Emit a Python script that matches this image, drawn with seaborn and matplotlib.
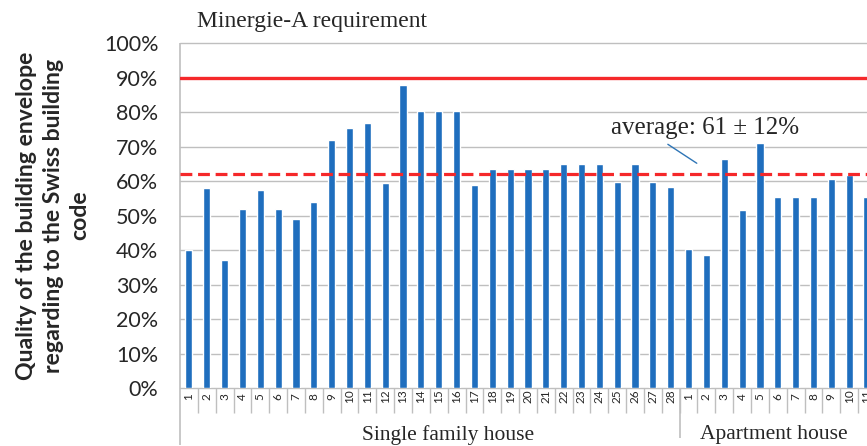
# Quality of the building envelope vs. Swiss building code
# Bar chart with Minergie-A requirement and average line
import pandas as pd
import matplotlib.pyplot as plt
import seaborn as sns

# Values (percent)
single_family = [40, 58, 37, 52, 57.5, 52, 49, 54, 72, 75.5, 77, 59.5, 88, 80.5,
                 80.5, 80.5, 59, 63.5, 63.5, 63.5, 63.5, 65, 65, 65, 59.7, 65, 59.7, 58.3]
apartment = [40.2, 38.5, 66.3, 51.7, 71.2, 55.5, 55.5, 55.5, 60.5, 61.7, 55.3]
requirement = 90
average = 62
groups = ["Single family house", "Apartment house"]

labels = [str(i + 1) for i in range(len(single_family))] + \
         [str(i + 1) for i in range(len(apartment))]
data = pd.DataFrame({
    "id": ["S%d" % (i + 1) for i in range(len(single_family))] +
          ["A%d" % (i + 1) for i in range(len(apartment))],
    "value": single_family + apartment,
})

sns.set_style("white")
plt.rcParams['font.family'] = ['Lato', 'DejaVu Sans']

fig = plt.figure(figsize=(8.67, 4.46), dpi=100)
ax = fig.add_axes([180 / 867, 58 / 446, 1 - 180 / 867, 344.7 / 446])

blue = "#1F6EBE"
red = "#F5282A"
grey = "#BFBFBF"

sns.barplot(data=data, x="id", y="value", color=blue, saturation=1,
            width=0.4, ax=ax, zorder=3)

# gridlines and frame
for v in range(0, 101, 10):
    ax.axhline(v, color=grey, lw=1, zorder=1, clip_on=False)
for s in ax.spines.values():
    s.set_visible(False)

ax.set_ylim(0, 100)
ax.set_xlim(-0.5, 37.96)
ax.set_yticks(range(0, 101, 10))
ax.set_yticklabels(["%d%%" % v for v in range(0, 101, 10)], fontsize=15.5,
                   color="#262626")
ax.tick_params(axis="y", length=0, pad=15.5)

ax.set_xticks(range(len(labels)))
ax.set_xticklabels(labels, rotation=90, fontsize=8.5, color="#262626",
                   va="center")
ax.tick_params(axis="x", length=0, pad=6)
ax.set_xlabel("")
ax.set_ylabel("Quality of the building envelope\nregarding to the Swiss building\ncode",
              fontsize=16.6, fontweight="bold", linespacing=1.32, labelpad=10)

# reference lines
ax.axhline(requirement, color=red, lw=2.4, zorder=4)
ax.axhline(average, color=red, lw=2.3, dashes=(3.7, 1.8), zorder=4)

# category separators under the axis
trans = ax.get_xaxis_transform()
seps = [i - 0.5 for i in range(1, len(labels))]
ax.vlines(seps, -0.0725, 0, transform=trans, color=grey, lw=1, clip_on=False)
ax.vlines([-0.5], -0.165, 1.0, transform=trans, color=grey, lw=1.2, clip_on=False)
ax.vlines([len(single_family) - 0.5], -0.145, 0, transform=trans, color=grey,
          lw=1.2, clip_on=False)

# group labels
ax.text(14.5, -0.136, groups[0], transform=trans,
        ha="center", va="center", fontsize=15.5, family="Liberation Serif")
ax.text(32.75, -0.136, groups[1], transform=trans,
        ha="center", va="center", fontsize=15.5, family="Liberation Serif")

# annotations
fig.text(197 / 867, 1 - 22 / 446, "Minergie-A requirement", ha="left",
         va="center", fontsize=17, family="Liberation Serif")
ax.text(28.95, 75.5, "average: 61 \u00b1 12%", ha="center", va="center",
        fontsize=18, family="Liberation Serif", zorder=5)
ax.plot([26.84, 28.46], [70.7, 65.2], color="#2E75B6", lw=1, zorder=5)

plt.savefig("out.png", dpi=100)
